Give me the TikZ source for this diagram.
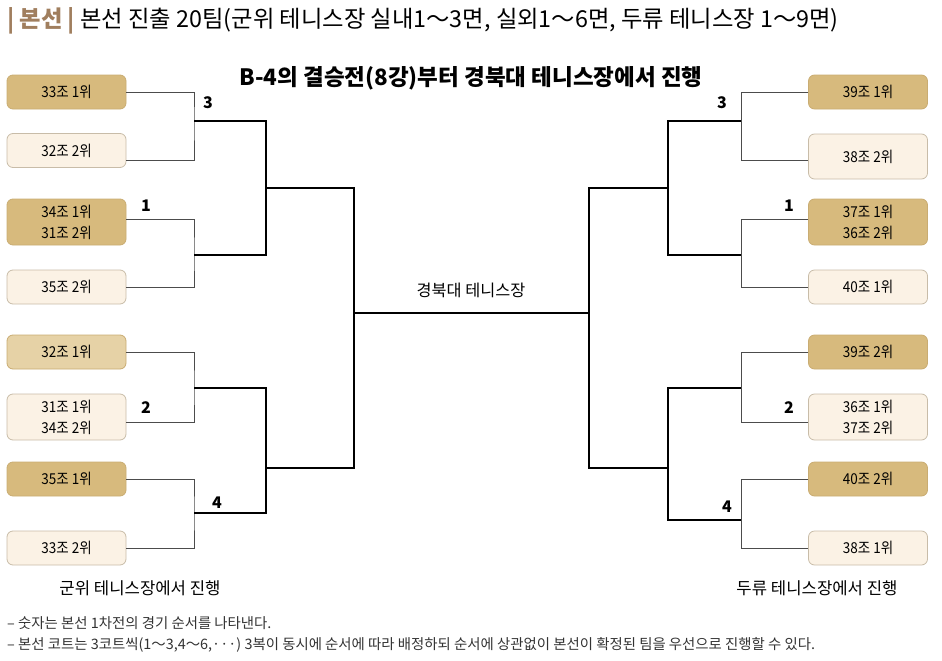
\documentclass[tikz,border=0pt]{standalone}
\usepackage{fontspec}
\setmainfont{Noto Sans CJK KR}
\newfontfamily\boxfont[FakeStretch=0.9]{Noto Sans CJK KR}
\definecolor{seedfill}{HTML}{D7BA7D}
\definecolor{seedline}{HTML}{C9AC72}
\definecolor{palefill}{HTML}{E6D2A6}
\definecolor{teamfill}{HTML}{FBF2E5}
\definecolor{teamline}{HTML}{C8BCA8}
\definecolor{headbrown}{HTML}{A07E5E}
\definecolor{notegray}{HTML}{333333}
\tikzset{
  teambox/.style={draw=teamline, fill=teamfill, line width=0.8pt, rounded corners=6pt,
    minimum width=119pt, minimum height=34pt, align=center, inner sep=0pt,
    font=\boxfont\fontsize{15}{21}\selectfont},
  seedbox/.style={teambox, draw=seedline, fill=seedfill},
  bracket/.style={draw=black!70, line width=0.9pt},
  final/.style={draw=black, line width=1.3pt},
  num/.style={font=\bfseries\fontsize{16}{18}\selectfont, inner sep=0pt},
  note/.style={anchor=west, inner sep=0pt, text=notegray, font=\fontsize{14.4}{17}\selectfont}
}
\begin{document}
\begin{tikzpicture}[x=1pt,y=-1pt]
  \useasboundingbox (0,0) rectangle (942,661);
  \node[anchor=west, inner sep=0pt, font=\fontsize{23.3}{28}\selectfont] (head) at (7,21)
    {{\color{headbrown}\bfseries| 본선 |} 본선 진출 20팀(군위 테니스장 실내1～3면, 실외1～6면, 두류 테니스장 1～9면)};
  \node[font=\bfseries\fontsize{22.5}{26}\selectfont, inner sep=0pt] (title) at (471,78)
    {B-4의 결승전(8강)부터 경북대 테니스장에서 진행};

  \node[seedbox] (L1) at (66.5,92) {33조 1위};
  \node[teambox] (L2) at (66.5,150.5) {32조 2위};
  \node[seedbox, minimum height=46pt] (L3) at (66.5,222) {34조 1위\\31조 2위};
  \node[teambox] (L4) at (66.5,287) {35조 2위};
  \node[seedbox, fill=palefill] (L5) at (66.5,352) {32조 1위};
  \node[teambox, minimum height=46pt] (L6) at (66.5,417) {31조 1위\\34조 2위};
  \node[seedbox] (L7) at (66.5,479) {35조 1위};
  \node[teambox] (L8) at (66.5,548) {33조 2위};

  \node[seedbox] (R1) at (868,92) {39조 1위};
  \node[teambox, minimum height=45pt] (R2) at (868,156.5) {38조 2위};
  \node[seedbox, minimum height=46pt] (R3) at (868,222) {37조 1위\\36조 2위};
  \node[teambox] (R4) at (868,287) {40조 1위};
  \node[seedbox] (R5) at (868,352) {39조 2위};
  \node[teambox, minimum height=46pt] (R6) at (868,417) {36조 1위\\37조 2위};
  \node[seedbox] (R7) at (868,479) {40조 2위};
  \node[teambox] (R8) at (868,548) {38조 1위};

  \coordinate (a3) at (194,121);
  \coordinate (a1) at (194,255);
  \coordinate (a2) at (194,388);
  \coordinate (a4) at (194,513);
  \coordinate (b1) at (266,188);
  \coordinate (b2) at (266,468);
  \coordinate (cL) at (354,313);
  \coordinate (ra3) at (741,121);
  \coordinate (ra1) at (741,255);
  \coordinate (ra2) at (741,388);
  \coordinate (ra4) at (741,520);
  \coordinate (rb1) at (668,188);
  \coordinate (rb2) at (668,468);
  \coordinate (cR) at (589,313);

  \draw[bracket] (L1.east) -| (a3) |- ([yshift=-9.5pt]L2.east);
  \draw[bracket] ([yshift=3pt]L3.east) -| (a1) |- (L4.east);
  \draw[bracket] (L5.east) -| (a2) |- ([yshift=-5pt]L6.east);
  \draw[bracket] (L7.east) -| (a4) |- (L8.east);
  \draw[bracket] (R1.west) -| (ra3) |- ([yshift=-3.5pt]R2.west);
  \draw[bracket] ([yshift=3pt]R3.west) -| (ra1) |- (R4.west);
  \draw[bracket] (R5.west) -| (ra2) |- ([yshift=-5pt]R6.west);
  \draw[bracket] (R7.west) -| (ra4) |- (R8.west);

  \draw[final] (a3) -| (b1) |- (a1);
  \draw[final] (a2) -| (b2) |- (a4);
  \draw[final] (b1) -| (cL) |- (b2);
  \draw[final] (ra3) -| (rb1) |- (ra1);
  \draw[final] (ra2) -| (rb2) |- (ra4);
  \draw[final] (rb1) -| (cR) |- (rb2);
  \draw[final] (cL) -- (cR);

  \node[num] (nL3) at (208,103) {3};
  \node[num] (nL1) at (146,206) {1};
  \node[num] (nL2) at (146,408) {2};
  \node[num] (nL4) at (217,503) {4};
  \node[num] (nR3) at (722,103) {3};
  \node[num] (nR1) at (789,206) {1};
  \node[num] (nR2) at (789,408) {2};
  \node[num] (nR4) at (727,507) {4};

  \node[font=\fontsize{16.3}{19}\selectfont, inner sep=0pt] (venue) at (471,290) {경북대 테니스장};
  \node[font=\fontsize{16.7}{19}\selectfont, inner sep=0pt] (gunwi) at (140,588) {군위 테니스장에서 진행};
  \node[font=\fontsize{16.7}{19}\selectfont, inner sep=0pt] (duryu) at (817,588) {두류 테니스장에서 진행};

  \node[note] (note1) at (7,623) {– 숫자는 본선 1차전의 경기 순서를 나타낸다.};
  \node[note] (note2) at (7,645) {– 본선 코트는 3코트씩(1～3,4～6,···) 3복이 동시에 순서에 따라 배정하되 순서에 상관없이 본선이 확정된 팀을 우선으로 진행할 수 있다.};
\end{tikzpicture}
\end{document}
